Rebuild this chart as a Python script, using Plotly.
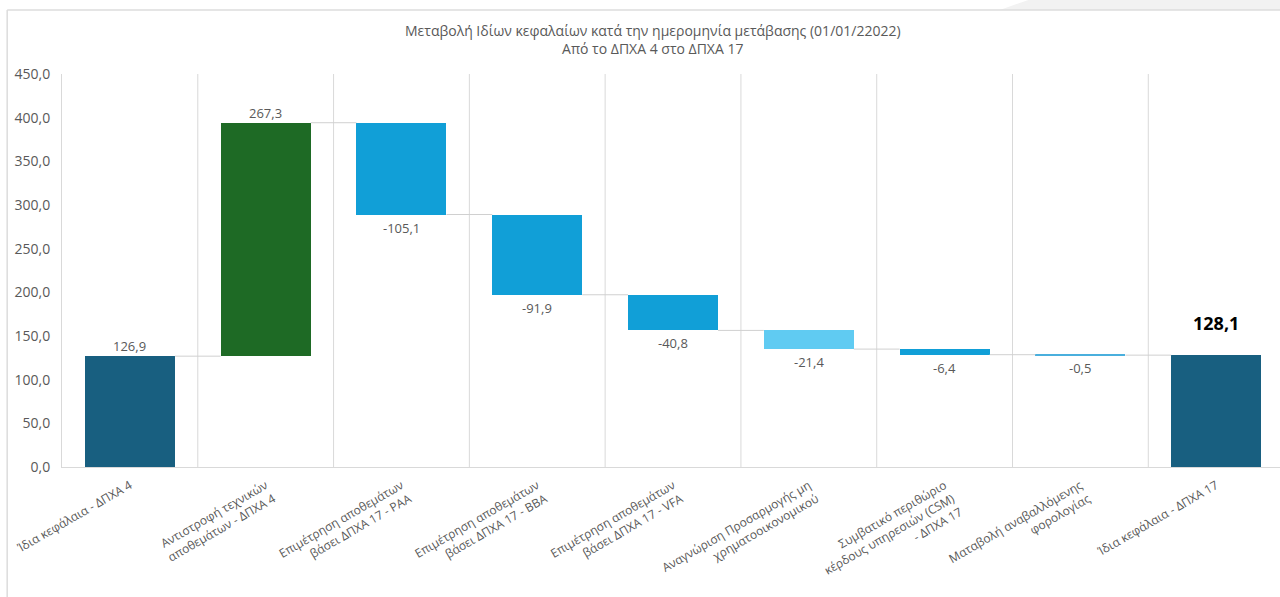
import plotly.graph_objects as go

categories = [
    "Ίδια κεφάλαια - ΔΠΧΑ 4",
    "Αντιστροφή τεχνικών<br>αποθεμάτων - ΔΠΧΑ 4",
    "Επιμέτρηση αποθεμάτων<br>βάσει ΔΠΧΑ 17 - PAA",
    "Επιμέτρηση αποθεμάτων<br>βάσει ΔΠΧΑ 17 - BBA",
    "Επιμέτρηση αποθεμάτων<br>βάσει ΔΠΧΑ 17 - VFA",
    "Αναγνώριση Προσαρμογής μη<br>χρηματοοικονομικού",
    "Συμβατικό περιθώριο<br>κέρδους υπηρεσιών (CSM)<br>- ΔΠΧΑ 17",
    "Ματαβολή αναβαλλόμενης<br>φορολογίας",
    "Ίδια κεφάλαια - ΔΠΧΑ 17",
]
values = [126.9, 267.3, -105.1, -91.9, -40.8, -21.4, -6.4, -0.5, 128.1]
measures = ["absolute", "relative", "relative", "relative", "relative",
            "relative", "relative", "relative", "total"]
colors = ["#185f80", "#1e6a25", "#119fd7", "#119fd7", "#119fd7",
          "#60cbf2", "#119fd7", "#4aafdd", "#185f80"]

title_line1 = "Μεταβολή Ιδίων κεφαλαίων κατά την ημερομηνία μετάβασης (01/01/22022)"
title_line2 = "Από το ΔΠΧΑ 4 στο ΔΠΧΑ 17"

# compute bases / heights
bases, heights, ends = [], [], []
running = 0.0
for v, m in zip(values, measures):
    if m == "absolute" or m == "total":
        bases.append(0.0)
        heights.append(v)
        running = v
    else:
        bases.append(running)
        heights.append(v)
        running = running + v
    ends.append(running)

xs = list(range(len(categories)))
bar_w = 0.663

fig = go.Figure()
fig.add_trace(go.Bar(
    x=xs, y=heights, base=bases, width=bar_w,
    marker=dict(color=colors, line=dict(width=0)),
    hoverinfo="skip", showlegend=False,
))

# connectors
cx, cy = [], []
for i in range(len(xs) - 1):
    cx += [xs[i] + bar_w / 2, xs[i + 1] - bar_w / 2, None]
    cy += [ends[i], ends[i], None]
fig.add_trace(go.Scatter(x=cx, y=cy, mode="lines",
                         line=dict(color="#d0d0d0", width=1),
                         hoverinfo="skip", showlegend=False))

# labels
annotations = []
for i, (v, b) in enumerate(zip(values, bases)):
    txt = f"{v:.1f}".replace(".", ",")
    if i == len(values) - 1:
        annotations.append(dict(x=xs[i], y=b + v, text=f"<b>{txt}</b>",
                                showarrow=False, yanchor="bottom", yshift=18,
                                font=dict(size=18, color="#000000")))
    elif v >= 0:
        annotations.append(dict(x=xs[i], y=b + v, text=txt, showarrow=False,
                                yanchor="bottom", yshift=-1,
                                font=dict(size=13, color="#595959")))
    else:
        annotations.append(dict(x=xs[i], y=b + v, text=txt, showarrow=False,
                                yanchor="top", yshift=-2,
                                font=dict(size=13, color="#595959")))

# title
annotations.append(dict(xref="paper", yref="paper", x=0.485, y=1.0, yshift=55,
                        text=title_line1 + "<br>" + title_line2,
                        showarrow=False, yanchor="top",
                        font=dict(size=14, color="#595959")))

shapes = []
for i in range(len(xs)):
    shapes.append(dict(type="line", xref="x", yref="y", x0=xs[i] + 0.5, x1=xs[i] + 0.5,
                       y0=0, y1=450, line=dict(color="#d9d9d9", width=1), layer="below"))
# frame / page decoration
shapes.append(dict(type="path", xref="paper", yref="paper",
                   path="M 0.770 1.163 L 0.795 1.19 L 1.05 1.19 L 1.05 1.163 Z",
                   fillcolor="#f2f2f2", line=dict(width=0), layer="below"))
shapes.append(dict(type="line", xref="paper", yref="paper", x0=-0.045, x1=1.05,
                   y0=1.163, y1=1.163, line=dict(color="#dcdcdc", width=1.5)))
shapes.append(dict(type="line", xref="paper", yref="paper", x0=-0.045, x1=-0.045,
                   y0=1.163, y1=-0.4, line=dict(color="#dcdcdc", width=1.5)))

fig.update_layout(
    width=1280, height=597,
    margin=dict(l=62, r=0, t=74, b=130),
    paper_bgcolor="white", plot_bgcolor="white",
    font=dict(family="Open Sans, Noto Sans, sans-serif", color="#595959"),
    separators=",.",
    bargap=0,
    xaxis=dict(range=[-0.5, 8.47], tickvals=xs, ticktext=categories,
               tickangle=-30, tickfont=dict(size=12, color="#595959"),
               ticklabelstandoff=6,
               showgrid=False, zeroline=False, showline=True,
               linecolor="#d9d9d9", linewidth=1, ticks=""),
    yaxis=dict(range=[0, 450], dtick=50, tickformat=".1f",
               tickfont=dict(size=14, color="#595959"),
               ticklabelstandoff=8,
               showgrid=False, zeroline=False, showline=True,
               linecolor="#d9d9d9", linewidth=1, ticks=""),
    annotations=annotations,
    shapes=shapes,
)

fig.write_html("out.html")
